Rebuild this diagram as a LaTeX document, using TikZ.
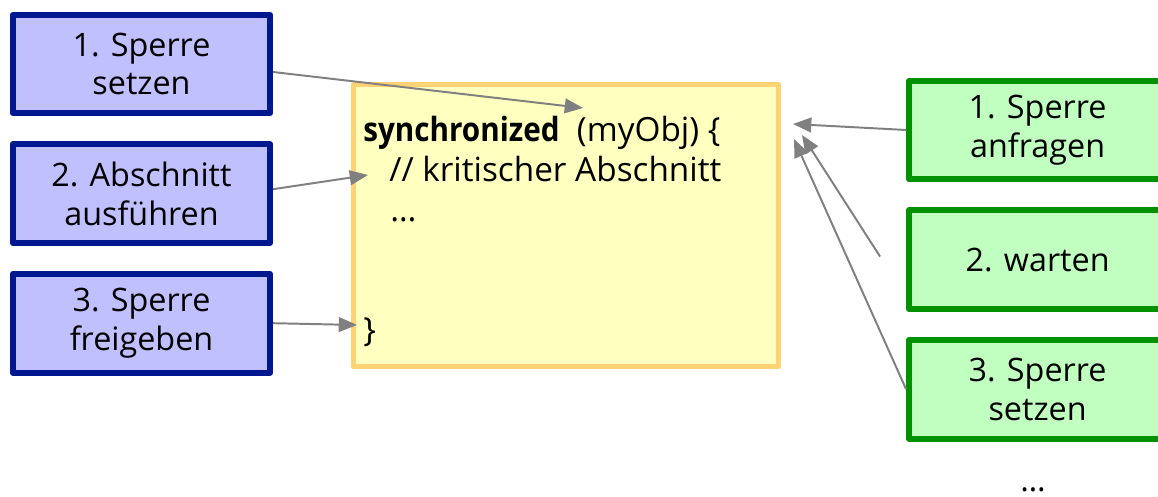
\documentclass[tikz,border=0pt]{standalone}
\usepackage{fontspec}
\setmainfont{Open Sans}
\usepackage{tikz}
\usetikzlibrary{arrows.meta}
\usetikzlibrary{positioning}

\definecolor{lockblue}{RGB}{192,192,255}
\definecolor{lockblueline}{RGB}{0,24,143}
\definecolor{waitgreen}{RGB}{192,255,192}
\definecolor{waitgreenline}{RGB}{0,145,0}
\definecolor{codeyellow}{RGB}{255,255,192}
\definecolor{codeyellowline}{RGB}{255,211,115}
\definecolor{arrowgray}{RGB}{128,128,128}

\begin{document}
\begin{tikzpicture}[->,>={Triangle[length=13pt,width=10.5pt]},node distance=3.24cm,
    font=\fontsize{23}{27.5}\selectfont]
\tikzstyle{every edge}=[draw=arrowgray, line width=1.4pt]
\tikzstyle{thread}=[rectangle, draw=lockblueline, fill=lockblue, line width=4.3pt,
    line join=round, minimum width=6.425cm, minimum height=2.47cm, align=center]
\tikzstyle{waiter}=[thread, draw=waitgreenline, fill=waitgreen]
\tikzstyle{monitor}=[rectangle, draw=codeyellowline, fill=codeyellow, line width=3.6pt,
    line join=round, minimum width=10.625cm, minimum height=7.05cm]
\tikzstyle{code}=[inner sep=0pt, anchor=base west, font=\fontsize{23.7}{28}\selectfont]

\useasboundingbox (0,0) rectangle (28.95,-12.425);

% thread holding the lock
\node[thread]        (b1) at (3.5375,-1.6)   {1. Sperre\\setzen};
\node[thread]        (b2) [below of=b1]      {2. Abschnitt\\ausführen};
\node[thread]        (b3) [below of=b2]      {3. Sperre\\freigeben};

% synchronized block
\node[monitor]       (sync) at (14.15,-5.6375) {};
\node[code]          (head) at (9.075,-3.55)
    {\scalebox{0.89}[1]{\textbf{synchronized}}~~(myObj) \{};
\node[code]          (crit) at (9.725,-4.55)  {// kritischer Abschnitt};
\node[code]          (rest) at (9.75,-5.55)   {…};
\node[code]          (close) at (9.075,-8.55) {\}};

% waiting thread
\node[waiter]        (g1) at (25.94,-3.25)   {1. Sperre\\anfragen};
\node[waiter]        (g2) [below of=g1]      {2. warten};
\node[waiter]        (g3) [below of=g2]      {3. Sperre\\setzen};
\node[anchor=base,inner sep=0pt] (more) at (25.825,-12.3) {…};

\coordinate (lock) at (14.575,-2.7);
\coordinate (work) at (9.2,-4.375);
\coordinate (free) at (8.925,-8.125);
\coordinate (ask)  at (19.825,-3.1);
\coordinate (wait) at (20.05,-3.375);
\coordinate (take) at (19.85,-3.475);

\path   ([yshift=-0.2cm]b1.east)  edge  (lock)
        ([yshift=0.11cm]b2.east)  edge  (work)
        (b3.east)                 edge  (free)

        (g1.west)                 edge  (ask)
        ([xshift=-0.65cm,yshift=0.075cm]g2.west) edge (wait)
        (g3.west)                 edge  (take);

\end{tikzpicture}
\end{document}
